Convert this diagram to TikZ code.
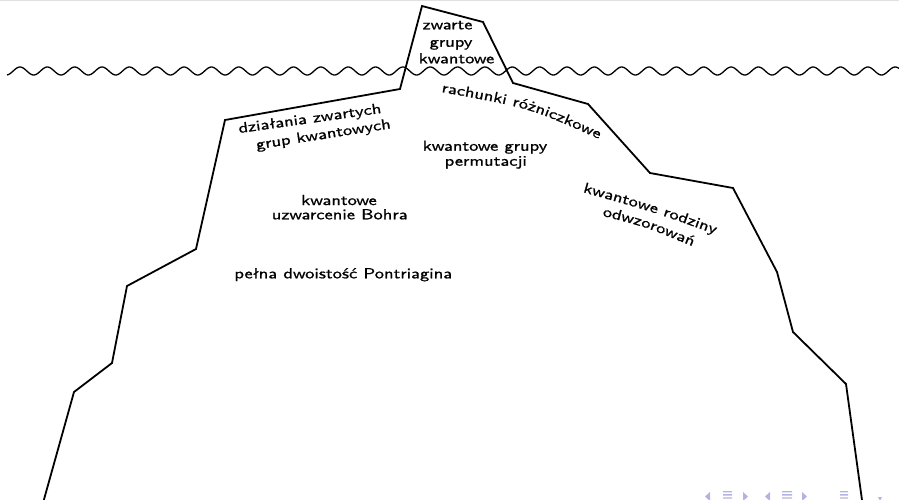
\documentclass[tikz,border=0pt]{standalone}
\usepackage{fontspec}
\usetikzlibrary{decorations.text}
\newfontfamily\sqf[FakeStretch=1.27,FakeBold=1]{lmsans10-regular.otf}
\newcommand\lblfont{\sqf\fontsize{14.6}{15}\selectfont}
\definecolor{navc}{rgb}{0.70,0.70,0.89}
\tikzset{
  berg/.style={line width=1.8pt, line join=miter},
  wave/.style={line width=1.3pt},
  lbl/.style={font=\lblfont, inner sep=0pt, anchor=base},
  curvlbl/.style={decorate, decoration={text along path, text align=center, text={|\lblfont|#1}}},
  navsym/.style={fill=navc, draw=none},
  navline/.style={draw=navc, line width=1pt},
}
\begin{document}
\begin{tikzpicture}[x=1pt,y=-1pt]
\useasboundingbox (0,0) rectangle (899,499);
\clip (0,0) rectangle (899,499);
% faint top rule
\fill[black!12] (0,0) rectangle (899,1);
% iceberg
\draw[berg] (43,503) -- (74,392) -- (112,363) -- (127,286) -- (196,249) -- (225,120)
  -- (400,89) -- (422,6) -- (483,22) -- (513,83) -- (588,104) -- (650,173)
  -- (733,188) -- (777,272) -- (793,332) -- (846,384) -- (862.4,503);
% water surface
\draw[wave] plot[domain=7:899, samples=700] (\x, {71-4*cos(13.1627*(\x-20))});
% straight labels
\node[lbl] (zw1) at (447.5,29.3) {zwarte};
\node[lbl] (zw2) at (451,46.7) {grupy};
\node[lbl] (zw3) at (456.5,63.3) {kwantowe};
\node[lbl] (kg1) at (485,150.7) {kwantowe grupy};
\node[lbl] (kg2) at (485.8,165.7) {permutacji};
\node[lbl] (ub1) at (339,205) {kwantowe};
\node[lbl] (ub2) at (339.7,219.3) {uzwarcenie Bohra};
\node[lbl] (pd) at (343.3,278.3) {pełna dwoistość Pontriagina};
% labels following the outline
\path[curvlbl={działania zwartych}] (220,135.8) -- (401,110.2);
\path[curvlbl={grup kwantowych}] (237.3,152.45) -- (410.7,125.15);
\path[curvlbl={rachunki różniczkowe}] (421.3,88.5) -- (441,92) .. controls (530,108) .. (599,139) -- (617.3,147.2);
\path[curvlbl={kwantowe rodziny}] (565.8,187.3) -- (585,192.7) .. controls (653.5,212) .. (713,233.3) -- (731.8,240);
\path[curvlbl={odwzorowań}] (583.6,211) -- (603,216) .. controls (646,227) .. (692,246) -- (710.5,253.6);
% navigation symbols
\path[navsym] (710,492) -- (705,496.5) -- (710,501) -- cycle;
\path[navsym] (723,491) rectangle (732,492.3) (723,494.2) rectangle (732,495.5) (723,497.4) rectangle (732,498.7);
\path[navsym] (743,492) -- (748,496.5) -- (743,501) -- cycle;
\path[navsym] (770,492) -- (765,496.5) -- (770,501) -- cycle;
\path[navsym] (782,491) rectangle (792,492.3) (782,494.2) rectangle (792,495.5) (782,497.4) rectangle (792,498.7);
\path[navsym] (802,492) -- (807,496.5) -- (802,501) -- cycle;
\path[navsym] (840,491) rectangle (848,492.3) (840,494.2) rectangle (848,495.5) (840,497.4) rectangle (848,498.7);
\draw[navline] (880,499) arc[start angle=180, end angle=20, radius=6];
\path[navsym] (878,497) -- (882,497) -- (880,500.5) -- cycle;
\draw[navline] (897.5,501) arc[start angle=180, end angle=90, radius=5];
\end{tikzpicture}
\end{document}
